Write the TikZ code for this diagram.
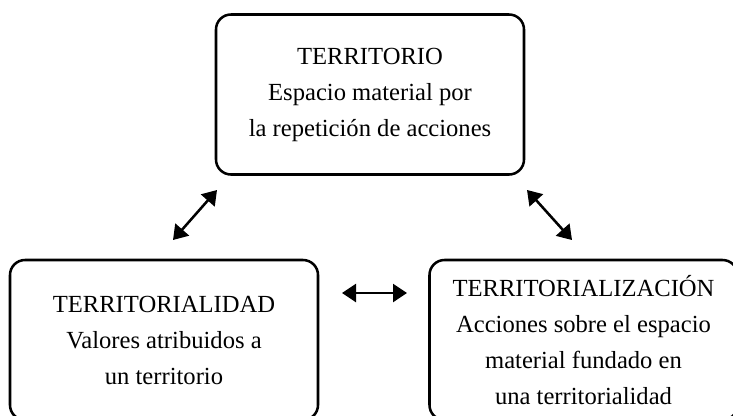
\documentclass[tikz,border=0pt]{standalone}
\usepackage{fontspec}
\setmainfont{Liberation Serif}
\usetikzlibrary{arrows.meta}

\begin{document}
\begin{tikzpicture}[x=0.25mm, y=-0.25mm,
  box/.style = {draw, line width=1.8pt, rounded corners=3.75mm, minimum width=77mm, minimum height=40mm, align=center, font=\fontsize{17.5}{25.6}\selectfont},
  link/.style = {{Triangle[length=3.5mm,width=4.5mm]}-{Triangle[length=3.5mm,width=4.5mm]}, line width=1.8pt}]
	\useasboundingbox (0,0) rectangle (733,415);

	\node[box] (Territorio) at (370,94.5) {TERRITORIO\\Espacio material por\\la repetición de acciones};
	\node[box] (Territorialidad) at (164,340) {TERRITORIALIDAD\\Valores atribuidos a\\un territorio};
	\node[box] (Territorializacion) at (583.5,340) {TERRITORIALIZACIÓN\\Acciones sobre el espacio\\material fundado en\\una territorialidad};

	% arrow ends
	\coordinate (l1) at (173,240);
	\coordinate (l2) at (217,190);
	\coordinate (r1) at (527,190);
	\coordinate (r2) at (572,240);
	\coordinate (h1) at (342,293);
	\coordinate (h2) at (407,293);

	\draw[link] (l1) -- (l2);
	\draw[link] (r1) -- (r2);
	\draw[link] (h1) -- (h2);
\end{tikzpicture}
\end{document}
